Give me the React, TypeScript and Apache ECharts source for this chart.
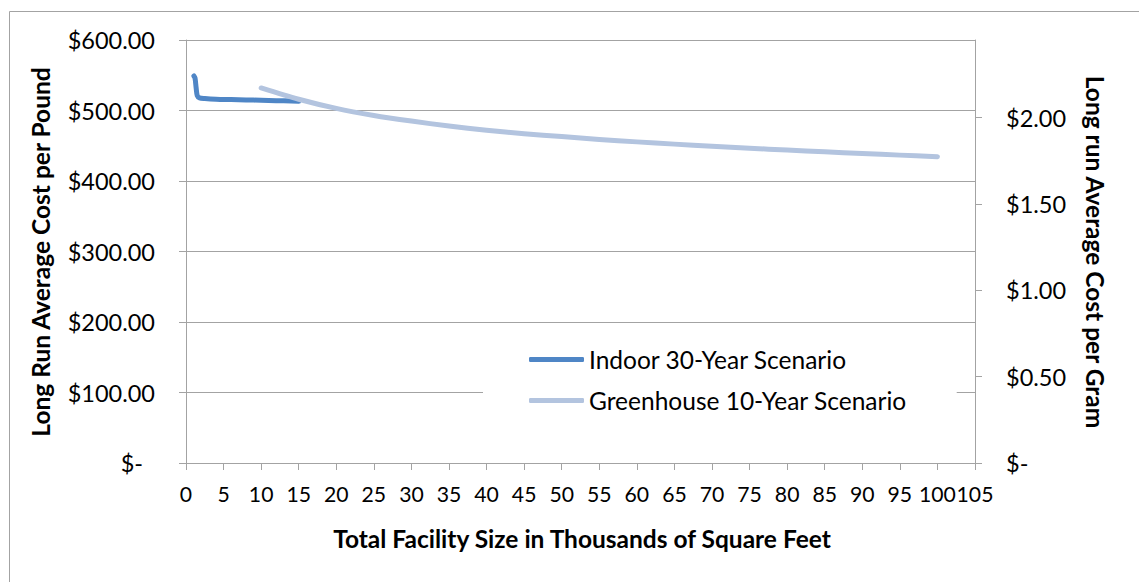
import React, { useEffect, useRef } from "react";
import * as echarts from "echarts";

const indoorX = [1.05, 1.2, 1.35, 1.5, 1.8, 2.5, 4, 6, 8, 10, 12, 14, 15];
const indoorY = [549, 546, 532, 521, 518, 517, 516, 515.5, 515, 514.5, 514, 513.5, 513];

const greenhouseX = [10, 15, 20, 25, 30, 35, 40, 45, 50, 55, 60, 65, 70, 75, 80, 85, 90, 95, 100];
const greenhouseY = [532, 516, 503, 493, 485, 478, 472, 467, 463, 459, 455.5, 452.3, 449.3, 446.5, 443.9, 441.4, 439, 436.7, 434.5];

const seriesNames = ["Indoor 30-Year Scenario", "Greenhouse 10-Year Scenario"];
const rightTicks = [0, 0.5, 1, 1.5, 2];

const FONT = "Lato";
const GRAY = "#a3a3a3";

export default function App() {
  const ref = useRef<HTMLDivElement>(null);
  useEffect(() => {
    if (!ref.current) return;
    const chart = echarts.init(ref.current, undefined, { renderer: "svg" });
    const labelStyle = { color: "#000", fontFamily: FONT, fontSize: 23.5 };
    const titleStyle = {
      fontFamily: FONT,
      fontWeight: "bold",
      fontSize: 24.5,
      fill: "#000",
      align: "center",
      verticalAlign: "middle",
    };
    chart.setOption({
      animation: false,
      backgroundColor: "#fff",
      grid: { left: 186, right: 164, top: 40, bottom: 119, containLabel: false },
      xAxis: {
        type: "value",
        min: 0,
        max: 105,
        interval: 5,
        axisLine: { show: true, lineStyle: { color: GRAY, width: 1 } },
        axisTick: { show: true, length: 7, lineStyle: { color: GRAY } },
        splitLine: { show: false },
        axisLabel: {
          color: "#000",
          fontFamily: FONT,
          fontSize: 21.2,
          margin: 20,
          showMaxLabel: true,
          showMinLabel: true,
        },
      },
      yAxis: [
        {
          type: "value",
          min: 0,
          max: 600,
          interval: 100,
          position: "left",
          axisLine: { show: true, lineStyle: { color: GRAY, width: 1 } },
          axisTick: { show: true, length: 7, lineStyle: { color: GRAY } },
          splitLine: { show: true, lineStyle: { color: GRAY, width: 1 } },
          axisLabel: {
            ...labelStyle,
            margin: 31,
            formatter: (v: number) => (v === 0 ? "{z|$-}" : "$" + v.toFixed(2)),
            rich: { z: { ...labelStyle, padding: [0, 12, 0, 0] } },
          },
        },
        {
          type: "value",
          min: 0,
          max: 2.45,
          interval: 0.5,
          position: "right",
          axisLine: { show: true, lineStyle: { color: GRAY, width: 1 } },
          axisTick: { show: true, length: 7, lineStyle: { color: GRAY }, customValues: rightTicks },
          splitLine: { show: false },
          axisLabel: {
            ...labelStyle,
            margin: 31,
            customValues: rightTicks,
            formatter: (v: number) => (v === 0 ? "$-" : "$" + v.toFixed(2)),
          },
        },
      ],
      legend: {
        data: seriesNames,
        orient: "vertical",
        left: 483,
        top: 335,
        padding: [12, 50, 12, 46],
        backgroundColor: "#fff",
        icon: "roundRect",
        itemWidth: 55,
        itemHeight: 5,
        itemGap: 16,
        textStyle: { color: "#000", fontFamily: FONT, fontSize: 24.5, lineHeight: 24 },
      },
      graphic: [
        {
          type: "rect",
          shape: { x: 9.5, y: 11.5, width: 1300, height: 800 },
          style: { fill: "none", stroke: GRAY, lineWidth: 1 },
          silent: true,
        },
        {
          type: "text",
          x: 40,
          y: 252,
          rotation: Math.PI / 2,
          style: { ...titleStyle, text: "Long Run Average Cost per Pound" },
        },
        {
          type: "text",
          x: 1095,
          y: 252,
          rotation: -Math.PI / 2,
          style: { ...titleStyle, text: "Long run Average Cost per Gram" },
        },
        {
          type: "text",
          x: 582,
          y: 538,
          style: { ...titleStyle, text: "Total Facility Size in Thousands of Square Feet" },
        },
      ],
      series: [
        {
          name: seriesNames[0],
          type: "line",
          yAxisIndex: 0,
          showSymbol: false,
          smooth: 0.3,
          data: indoorX.map((x, i) => [x, indoorY[i]]),
          itemStyle: { color: "#4f86c6" },
          lineStyle: { color: "#4f86c6", width: 5, cap: "round", join: "round" },
          z: 2,
        },
        {
          name: seriesNames[1],
          type: "line",
          yAxisIndex: 0,
          showSymbol: false,
          smooth: 0.3,
          data: greenhouseX.map((x, i) => [x, greenhouseY[i]]),
          itemStyle: { color: "#b3c4df" },
          lineStyle: { color: "#b3c4df", width: 5, cap: "round", join: "round" },
          z: 3,
        },
      ],
    });
    return () => chart.dispose();
  }, []);
  return (
    <div
      ref={ref}
      style={{ position: "fixed", left: 0, top: 0, width: 1139, height: 582 }}
    />
  );
}
